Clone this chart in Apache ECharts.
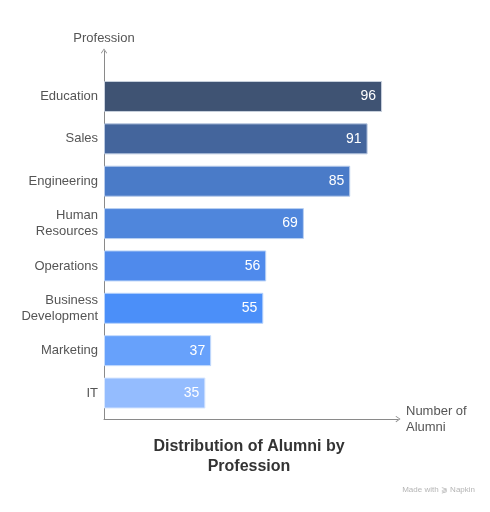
<!DOCTYPE html>
<html>
<head>
<meta charset="utf-8">
<script src="https://cdn.jsdelivr.net/npm/echarts@6/dist/echarts.min.js"></script>
<style>
  html, body { margin: 0; padding: 0; background: #fff; }
  #chart { width: 490px; height: 512px; }
</style>
</head>
<body>
<div id="chart"></div>
<script>
// data, top to bottom
const professions = ['Education', 'Sales', 'Engineering', 'Human\nResources', 'Operations', 'Business\nDevelopment', 'Marketing', 'IT'];
const alumni = [96, 91, 85, 69, 56, 55, 37, 35];
const barColors = ['#3f5373', '#44659c', '#4a7bc8', '#4f86dc', '#4f8aec', '#4b8ff9', '#67a1fb', '#94bcfe'];
const borderColors = ['#c9d1de', '#b9c8e0', '#b7cbeb', '#b9d0f2', '#b9d2f7', '#b7d3fc', '#c5dcfd', '#d7e6fe'];

const font = '"Liberation Sans", Arial, sans-serif';
const chevron = 'path://M0,7 L5,0 L10,7 L9,8 L5,2 L1,8 Z';
const axisColor = '#8a8a8a';

const chartDom = document.getElementById('chart');
const myChart = echarts.init(chartDom);

const option = {
  animation: false,
  textStyle: { fontFamily: font },
  title: {
    text: 'Distribution of Alumni by\nProfession',
    left: 244,
    textAlign: 'center',
    top: 432,
    textStyle: { fontFamily: font, fontSize: 16, fontWeight: 'bold', color: '#333', lineHeight: 20 }
  },
  grid: [
    // axes frame, reaching up to the arrow
    { left: 104, width: 294, top: 51, height: 368 },
    // bars
    { left: 104, width: 294, top: 75.3, height: 338.9 }
  ],
  xAxis: [
    {
      gridIndex: 0,
      type: 'value',
      min: 0,
      max: 101.5,
      name: 'Number of\nAlumni',
      nameLocation: 'end',
      nameGap: 8,
      nameTextStyle: { color: '#555', fontSize: 13, lineHeight: 16, align: 'left', padding: [4, 0, 0, 0] },
      axisLine: { show: true, symbol: ['none', chevron], symbolSize: [8, 5], lineStyle: { color: axisColor, width: 1 } },
      axisTick: { show: false },
      axisLabel: { show: false },
      splitLine: { show: false }
    },
    {
      gridIndex: 1,
      type: 'value',
      min: 0,
      max: 101.5,
      show: false
    }
  ],
  yAxis: [
    {
      gridIndex: 0,
      type: 'value',
      name: 'Profession',
      nameLocation: 'end',
      nameGap: 6,
      nameTextStyle: { color: '#555', fontSize: 13, align: 'center' },
      axisLine: { show: true, symbol: ['none', chevron], symbolSize: [8, 5], lineStyle: { color: axisColor, width: 1 } },
      axisTick: { show: false },
      axisLabel: { show: false },
      splitLine: { show: false }
    },
    {
      gridIndex: 1,
      type: 'category',
      inverse: true,
      data: professions,
      axisLine: { show: false },
      axisTick: { show: false },
      axisLabel: { color: '#555', fontSize: 13, lineHeight: 16, margin: 6, align: 'right' }
    }
  ],
  series: [
    {
      type: 'bar',
      xAxisIndex: 1,
      yAxisIndex: 1,
      barWidth: 31,
      data: alumni.map((v, i) => ({
        value: v,
        itemStyle: { color: barColors[i], borderColor: borderColors[i], borderWidth: 1 }
      })),
      label: {
        show: true,
        position: 'insideRight',
        distance: 6,
        color: '#fff',
        fontSize: 14,
        fontWeight: 500
      }
    }
  ],
  graphic: [
    {
      type: 'text',
      right: 15,
      bottom: 18,
      style: { text: 'Made with \u2AFA Napkin', fill: '#b5b5b5', fontSize: 8, fontFamily: font }
    }
  ]
};

option && myChart.setOption(option);
</script>
</body>
</html>
